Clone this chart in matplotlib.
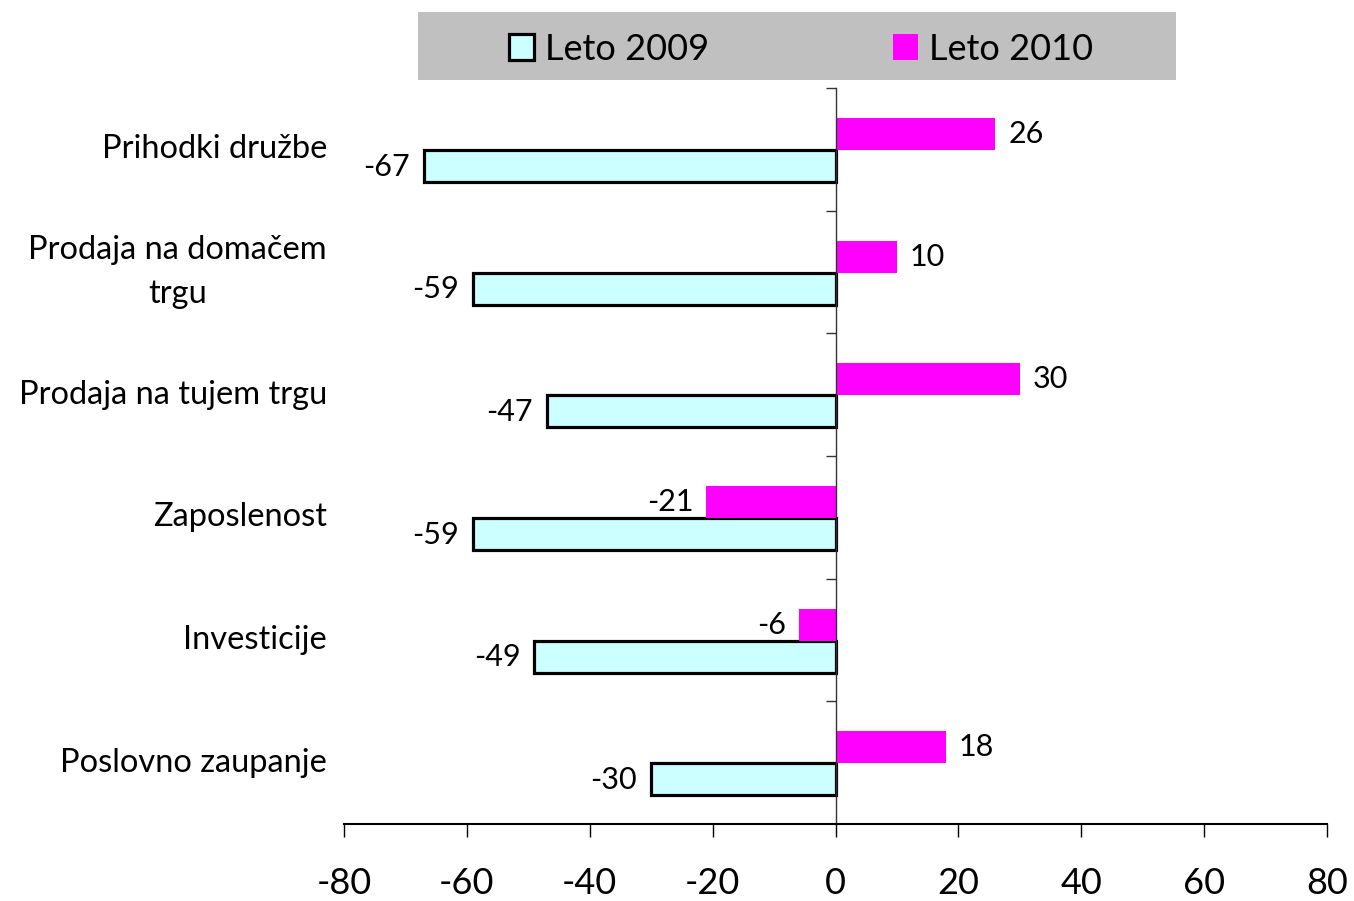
import matplotlib.pyplot as plt
import matplotlib.patches as mpatches
from matplotlib.transforms import blended_transform_factory

plt.rcParams['font.family'] = ['Lato', 'DejaVu Sans']

categories = ['Prihodki družbe', 'Prodaja na domačem\ntrgu', 'Prodaja na tujem trgu',
              'Zaposlenost', 'Investicije', 'Poslovno zaupanje']
leto_2009 = [-67, -59, -47, -59, -49, -30]
leto_2010 = [26, 10, 30, -21, -6, 18]
xticks = [-80, -60, -40, -20, 0, 20, 40, 60, 80]

fig = plt.figure(figsize=(13.54, 9.01), dpi=100)
ax = fig.add_axes([344/1354, 1-824/901, (1327-344)/1354, (824-88)/901])

y = list(range(len(categories)))
h = 0.26
b09 = ax.barh([i + 0.135 for i in y], leto_2009, height=h, color='#CCFFFF',
              edgecolor='black', linewidth=2.3, label='Leto 2009')
b10 = ax.barh([i - 0.125 for i in y], leto_2010, height=h, color='#FF00FF',
              edgecolor='none', label='Leto 2010')

# data labels
for i, v in enumerate(leto_2009):
    ax.text(v - 2.3, i + 0.14, str(v), ha='right', va='center', fontsize=22)
for i, v in enumerate(leto_2010):
    if v >= 0:
        ax.text(v + 2.1, i - 0.125, str(v), ha='left', va='center', fontsize=22)
    else:
        ax.text(v - 2.1, i - 0.125, str(v), ha='right', va='center', fontsize=22)

ax.set_xlim(-80, 80)
ax.set_ylim(5.5, -0.5)
ax.set_xticks(xticks)
ax.set_xticklabels([str(t) for t in xticks], fontsize=26)
ax.tick_params(axis='x', direction='out', length=9, width=1, pad=22, colors='black')

ax.set_yticks([i + 0.5 for i in range(-1, len(categories) - 1)])
ax.set_yticklabels([])
ax.tick_params(axis='y', direction='out', length=7, width=1, color='#333333')

trans = blended_transform_factory(ax.transAxes, ax.transData)
for i, c in enumerate(categories):
    ax.text(-17/983, i, c, transform=trans, ha='right', va='center',
            multialignment='center', fontsize=23.5, linespacing=1.6)

ax.spines['left'].set_position(('data', 0))
ax.spines['left'].set_linewidth(1)
ax.spines['left'].set_color('#333333')
ax.spines['bottom'].set_linewidth(1.5)
ax.spines['top'].set_visible(False)
ax.spines['right'].set_visible(False)

# legend band
fig.patches.append(mpatches.Rectangle((418/1354, 1-80/901), 758/1354, 68/901,
                                      transform=fig.transFigure, facecolor='#C0C0C0',
                                      edgecolor='none', zorder=0))
fig.legend(handles=[b09, b10], loc='center', bbox_to_anchor=(801/1354, 1-49/901),
           ncol=2, frameon=False, fontsize=26, handlelength=0.7, handleheight=0.7,
           handletextpad=0.3, columnspacing=5.1)

fig.savefig('out.png', dpi=100)
